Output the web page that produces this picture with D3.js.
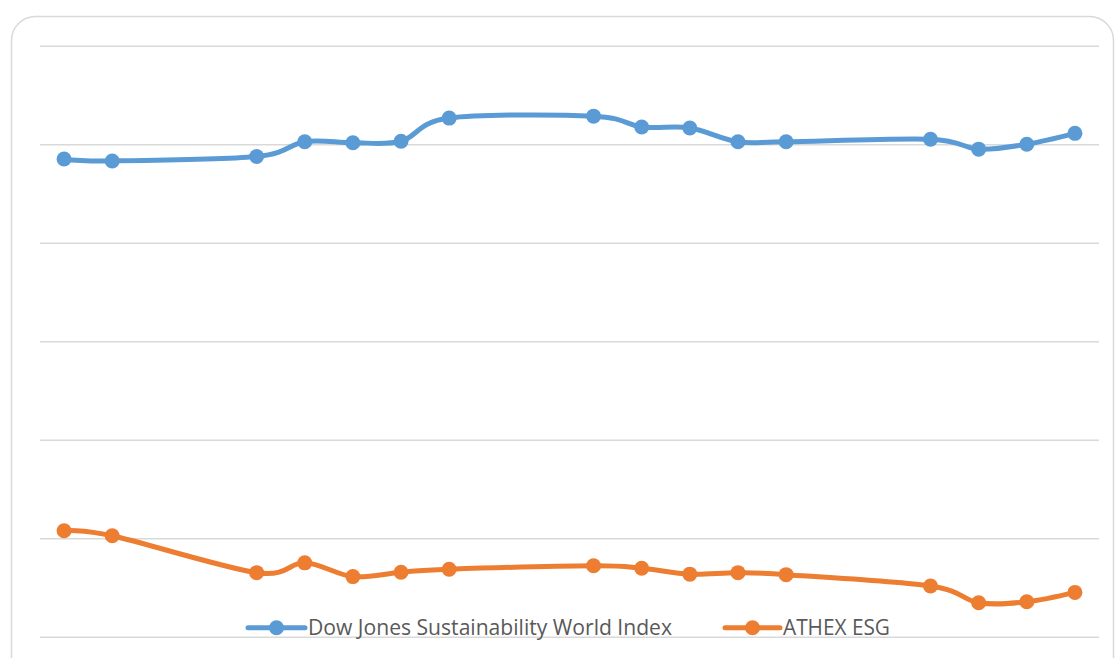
<!DOCTYPE html>
<html>
<head>
<meta charset="utf-8">
<script src="https://cdn.jsdelivr.net/npm/d3@7"></script>
<style>
  html, body { margin: 0; padding: 0; background: #fff; }
  svg { display: block; }
</style>
</head>
<body>
<svg id="chart" width="1115" height="658"></svg>
<script>
// Trading days (weekends leave gaps on the date axis)
const dates = [
  "2019-11-14", "2019-11-15",
  "2019-11-18", "2019-11-19", "2019-11-20", "2019-11-21", "2019-11-22",
  "2019-11-25", "2019-11-26", "2019-11-27", "2019-11-28", "2019-11-29",
  "2019-12-02", "2019-12-03", "2019-12-04", "2019-12-05"
];

const djsiWorld = [970, 966, 975, 1005, 1003, 1006, 1053, 1057, 1035, 1033, 1005, 1005, 1010, 990, 1000, 1022];
const athexEsg  = [215, 205, 130, 150, 122, 131, 137, 144, 139, 127, 130, 126, 103, 69, 71, 90];

const seriesNames = ["Dow Jones Sustainability World Index", "ATHEX ESG"];
const seriesColors = ["#5B9BD5", "#ED7D31"];

const yTicks = [0, 200, 400, 600, 800, 1000, 1200];

const svg = d3.select("#chart");
const parse = d3.utcParse("%Y-%m-%d");
const days = dates.map(parse);

const plot = { left: 40, right: 1099, top: 45.7, bottom: 636.7 };

// Each day occupies one slot; points sit in the slot centre
const halfDay = 12 * 3600 * 1000;
const x = d3.scaleUtc()
  .domain([new Date(+days[0] - halfDay), new Date(+days[days.length - 1] + halfDay)])
  .range([plot.left, plot.right]);

const y = d3.scaleLinear()
  .domain([yTicks[0], yTicks[yTicks.length - 1]])
  .range([plot.bottom, plot.top]);

// Chart frame
svg.append("rect")
  .attr("x", 11.5).attr("y", 16.5)
  .attr("width", 1102).attr("height", 670)
  .attr("rx", 24).attr("ry", 24)
  .attr("fill", "#fff")
  .attr("stroke", "#D9D9D9")
  .attr("stroke-width", 1.5);

// Horizontal gridlines (no labels shown)
svg.append("g")
  .attr("transform", `translate(${plot.left},0)`)
  .call(d3.axisLeft(y).tickValues(yTicks).tickSize(-(plot.right - plot.left)).tickFormat(""))
  .call(g => g.select(".domain").remove())
  .call(g => g.selectAll(".tick line")
    .attr("stroke", "#D9D9D9")
    .attr("stroke-width", 1.5));

const series = [djsiWorld, athexEsg].map((vals, i) => ({
  name: seriesNames[i],
  color: seriesColors[i],
  points: vals.map((v, j) => ({ date: days[j], value: v }))
}));

const line = d3.line()
  .x(d => x(d.date))
  .y(d => y(d.value))
  .curve(d3.curveCardinal.tension(0));

const gSeries = svg.append("g");
series.forEach(s => {
  const g = gSeries.append("g");
  g.append("path")
    .datum(s.points)
    .attr("d", line)
    .attr("fill", "none")
    .attr("stroke", s.color)
    .attr("stroke-width", 5)
    .attr("stroke-linejoin", "round")
    .attr("stroke-linecap", "round");
  g.selectAll("circle")
    .data(s.points)
    .join("circle")
    .attr("cx", d => x(d.date))
    .attr("cy", d => y(d.value))
    .attr("r", 7.5)
    .attr("fill", s.color);
});

// Legend
const legendY = 627.7;
const legendItems = [
  { x0: 248, x1: 305, tx: 308, tw: 364 },
  { x0: 725, x1: 780, tx: 783, tw: 107 }
];
const legend = svg.append("g");
series.forEach((s, i) => {
  const it = legendItems[i];
  const g = legend.append("g");
  g.append("line")
    .attr("x1", it.x0).attr("x2", it.x1)
    .attr("y1", legendY).attr("y2", legendY)
    .attr("stroke", s.color)
    .attr("stroke-width", 5)
    .attr("stroke-linecap", "round");
  g.append("circle")
    .attr("cx", (it.x0 + it.x1) / 2)
    .attr("cy", legendY)
    .attr("r", 7.5)
    .attr("fill", s.color);
  g.append("text")
    .attr("x", it.tx)
    .attr("y", 634.5)
    .attr("font-family", "'Liberation Sans Narrow', 'Open Sans', sans-serif")
    .attr("font-size", 21)
    .attr("fill", "#595959")
    .attr("textLength", it.tw)
    .attr("lengthAdjust", "spacingAndGlyphs")
    .text(s.name);
});
</script>
</body>
</html>
